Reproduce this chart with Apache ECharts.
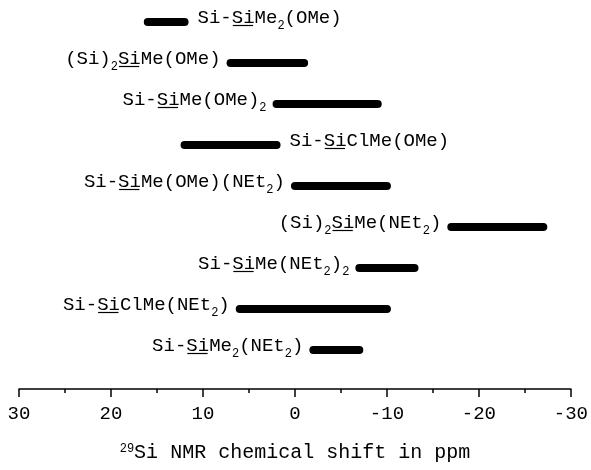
<!DOCTYPE html>
<html>
<head>
<meta charset="utf-8">
<script src="https://cdn.jsdelivr.net/npm/echarts@6/dist/echarts.min.js"></script>
<style>
html,body{margin:0;padding:0;background:#fff;}
#chart{width:591px;height:470px;}
</style>
</head>
<body>
<div id="chart"></div>
<script>
// Compound labels: _xx_ = underlined, ~x~ = subscript
const compounds = [
  'Si-_Si_Me~2~(OMe)',
  '(Si)~2~_Si_Me(OMe)',
  'Si-_Si_Me(OMe)~2~',
  'Si-_Si_ClMe(OMe)',
  'Si-_Si_Me(OMe)(NEt~2~)',
  '(Si)~2~_Si_Me(NEt~2~)',
  'Si-_Si_Me(NEt~2~)~2~',
  'Si-_Si_ClMe(NEt~2~)',
  'Si-_Si_Me~2~(NEt~2~)'
];
// 29Si chemical shift ranges (ppm)
const shiftFrom = [16, 7, 2, 12, 0, -17, -7, 6, -2];
const shiftTo   = [12, -1, -9, 2, -10, -27, -13, -10, -7];
// which side of the bar the label sits on
const labelSide = ['right', 'left', 'left', 'right', 'left', 'left', 'left', 'left', 'left'];

const xMin = -30, xMax = 30, xStep = 10;
const axisTitleSup = '29';
const axisTitle = 'Si NMR chemical shift in ppm';

const FONT = '"Liberation Mono", "Courier New", monospace';
const FS = 19, SUBFS = 12;

const mctx = document.createElement('canvas').getContext('2d');
function measure(t, fs) { mctx.font = fs + 'px ' + FONT; return mctx.measureText(t).width; }

function parse(s) {
  const segs = [];
  let cur = '', mode = 'n';
  const push = () => { if (cur) segs.push({t: cur, m: mode}); cur = ''; };
  for (const ch of s) {
    if (ch === '_') { push(); mode = (mode === 'u') ? 'n' : 'u'; }
    else if (ch === '~') { push(); mode = (mode === 's') ? 'n' : 's'; }
    else cur += ch;
  }
  push();
  return segs;
}

const cats = compounds.map(c => c.replace(/[_~]/g, ''));
const data = compounds.map((c, i) => [i, shiftFrom[i], shiftTo[i]]);

function renderItem(params, api) {
  const idx = api.value(0);
  const p1 = api.coord([api.value(1), idx]);
  const p2 = api.coord([api.value(2), idx]);
  const y = p1[1];
  const xl = Math.min(p1[0], p2[0]), xr = Math.max(p1[0], p2[0]);
  const children = [{
    type: 'line',
    shape: {x1: p1[0], y1: y, x2: p2[0], y2: y},
    style: {stroke: '#000', lineWidth: 8, lineCap: 'round'}
  }];
  const segs = parse(compounds[idx]);
  const widths = segs.map(s => measure(s.t, s.m === 's' ? SUBFS : FS));
  const total = widths.reduce((a, b) => a + b, 0);
  const side = labelSide[idx];
  let x = side === 'right' ? xr + 4 + 9 : xl - 4 - 6 - total;
  segs.forEach((s, k) => {
    const sub = s.m === 's';
    children.push({
      type: 'text',
      x: x, y: sub ? y + 4 : y - 4,
      style: {
        text: s.t, fill: '#000',
        fontSize: sub ? SUBFS : FS, fontFamily: FONT,
        align: 'left', verticalAlign: 'middle'
      }
    });
    if (s.m === 'u') {
      children.push({
        type: 'line',
        shape: {x1: x + 1, y1: y + 3.5, x2: x + widths[k] - 1.5, y2: y + 3.5},
        style: {stroke: '#000', lineWidth: 1.2}
      });
    }
    x += widths[k];
  });
  return {type: 'group', children: children};
}

const chart = echarts.init(document.getElementById('chart'), null, {renderer: 'canvas'});
chart.setOption({
  animation: false,
  backgroundColor: '#fff',
  grid: {left: 19, right: 19, top: 1.5, bottom: 99.5},
  xAxis: {
    type: 'value', min: xMin, max: xMax, interval: xStep, inverse: true,
    position: 'bottom', offset: 18.5,
    axisLine: {show: true, lineStyle: {color: '#000', width: 1.5}},
    axisTick: {show: true, length: 8, lineStyle: {color: '#000', width: 1.5}},
    minorTick: {show: true, splitNumber: 2, length: 4, lineStyle: {color: '#000', width: 1.5}},
    splitLine: {show: false}, minorSplitLine: {show: false},
    axisLabel: {color: '#000', fontFamily: FONT, fontSize: 19, margin: 15},
    name: '{sup|' + axisTitleSup + '}{n|' + axisTitle + '}',
    nameLocation: 'middle', nameGap: 54,
    nameTextStyle: {
      color: '#000', fontFamily: FONT, fontSize: 20,
      rich: {
        sup: {fontFamily: FONT, fontSize: 12, verticalAlign: 'top', color: '#000'},
        n: {fontFamily: FONT, fontSize: 20, color: '#000'}
      }
    }
  },
  yAxis: {
    type: 'category', data: cats, inverse: true, show: false
  },
  series: [{
    type: 'custom',
    renderItem: renderItem,
    encode: {x: [1, 2], y: 0},
    data: data,
    clip: false
  }]
});
</script>
</body>
</html>
